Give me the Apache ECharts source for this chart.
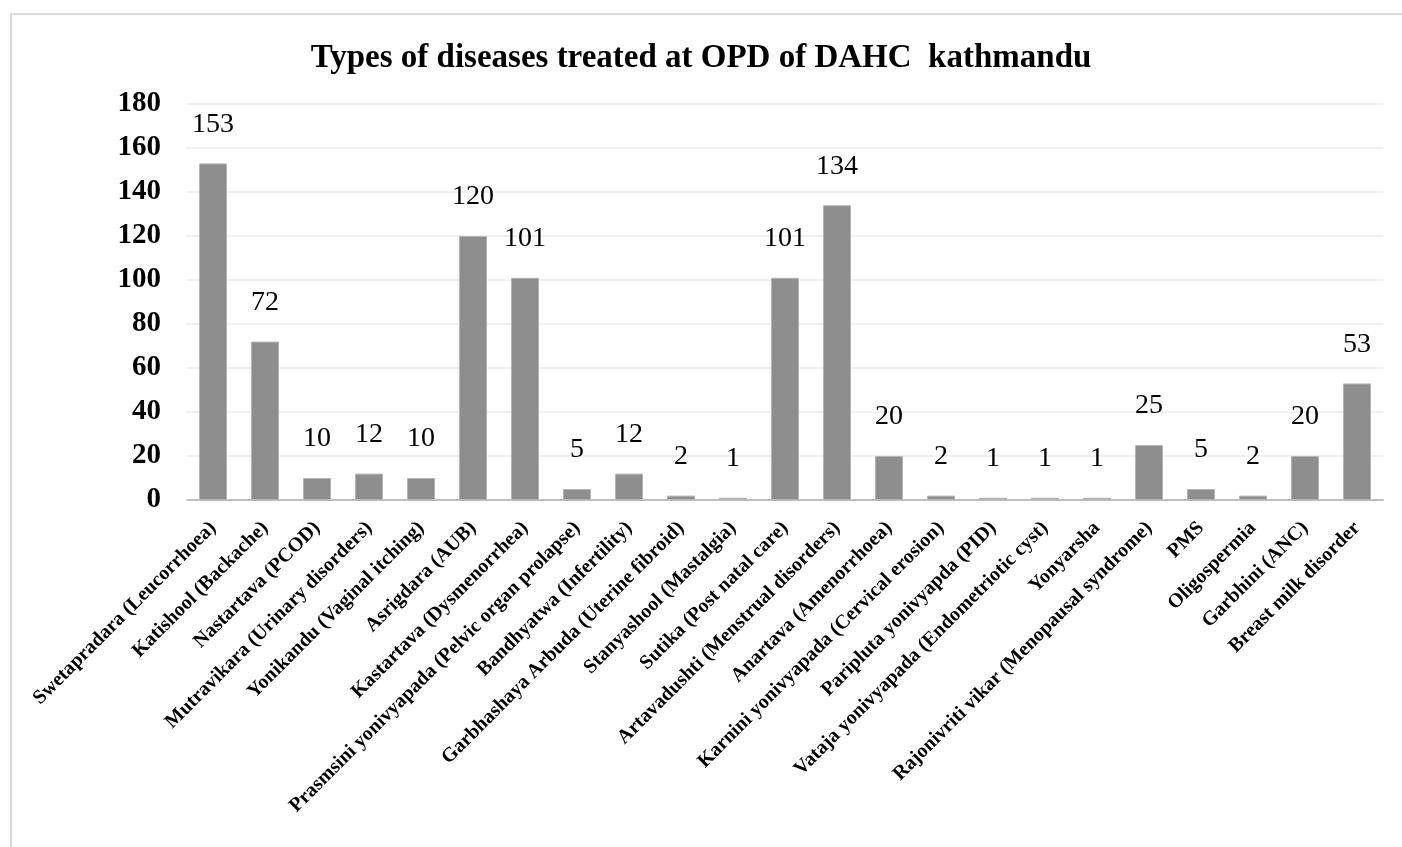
<!DOCTYPE html>
<html>
<head>
<meta charset="utf-8">
<title>Types of diseases treated at OPD of DAHC kathmandu</title>
<script src="https://cdn.jsdelivr.net/npm/echarts@6/dist/echarts.min.js"></script>
<style>
  html, body { margin: 0; padding: 0; background: #fff; }
  #chart { width: 1402px; height: 847px; }
</style>
</head>
<body>
<div id="chart"></div>
<script>
// categories and counts
const diseases = [
  'Swetapradara (Leucorrhoea)',
  'Katishool (Backache)',
  'Nastartava (PCOD)',
  'Mutravikara (Urinary disorders)',
  'Yonikandu (Vaginal itching)',
  'Asrigdara (AUB)',
  'Kastartava (Dysmenorrhea)',
  'Prasmsini yonivyapada (Pelvic organ prolapse)',
  'Bandhyatwa (Infertility)',
  'Garbhashaya Arbuda (Uterine fibroid)',
  'Stanyashool (Mastalgia)',
  'Sutika (Post natal care)',
  'Artavadushti (Menstrual disorders)',
  'Anartava (Amenorrhoea)',
  'Karnini yonivyapada (Cervical erosion)',
  'Paripluta yonivyapda (PID)',
  'Vataja yonivyapada (Endometriotic cyst)',
  'Yonyarsha',
  'Rajonivriti vikar (Menopausal syndrome)',
  'PMS',
  'Oligospermia',
  'Garbhini (ANC)',
  'Breast milk disorder'
];
const patients = [153, 72, 10, 12, 10, 120, 101, 5, 12, 2, 1, 101, 134, 20, 2, 1, 1, 1, 25, 5, 2, 20, 53];
const yTicks = { min: 0, max: 180, interval: 20 };

const chart = echarts.init(document.getElementById('chart'));

const option = {
  backgroundColor: '#ffffff',
  animation: false,
  title: {
    text: 'Types of diseases treated at OPD of DAHC  kathmandu',
    left: 'center',
    top: 37,
    textStyle: {
      fontFamily: 'Liberation Serif',
      fontWeight: 'bold',
      fontSize: 33,
      color: '#000'
    }
  },
  graphic: [{
    type: 'rect',
    shape: { x: 11, y: 14, width: 1400, height: 850 },
    style: { fill: 'none', stroke: '#d9d9d9', lineWidth: 2 },
    silent: true
  }],
  grid: {
    left: 187,
    right: 19,
    top: 104,
    bottom: 347,
    containLabel: false
  },
  xAxis: {
    type: 'category',
    data: diseases,
    axisTick: { show: false },
    axisLine: { lineStyle: { color: '#bfbfbf', width: 2 } },
    axisLabel: {
      interval: 0,
      rotate: 45,
      margin: 25,
      fontFamily: 'Liberation Serif',
      fontWeight: 'bold',
      fontSize: 20,
      color: '#000'
    }
  },
  yAxis: {
    type: 'value',
    min: yTicks.min,
    max: yTicks.max,
    interval: yTicks.interval,
    axisLine: { show: false },
    axisTick: { show: false },
    splitLine: { lineStyle: { color: '#f0f0f0', width: 2 } },
    axisLabel: {
      margin: 26,
      fontFamily: 'Liberation Serif',
      fontWeight: 'bold',
      fontSize: 29,
      color: '#000'
    }
  },
  series: [{
    type: 'bar',
    data: patients,
    barCategoryGap: '46%',
    itemStyle: {
      color: '#8e8e8e',
      borderColor: '#b5b5b5',
      borderWidth: 1
    },
    label: {
      show: true,
      position: 'top',
      distance: 25,
      fontFamily: 'Liberation Serif',
      fontSize: 28,
      color: '#000'
    }
  }]
};

chart.setOption(option);
</script>
</body>
</html>
